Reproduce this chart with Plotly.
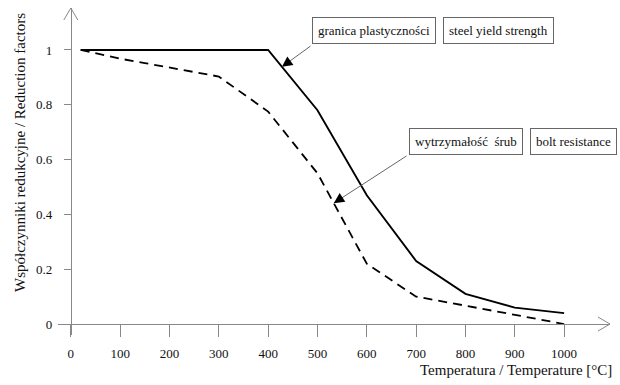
import numpy as np
import plotly.graph_objects as go

# ---- data ----
temps_steel = [20, 100, 200, 300, 400, 500, 600, 700, 800, 900, 1000]
steel_yield = [1.0, 1.0, 1.0, 1.0, 1.0, 0.78, 0.47, 0.23, 0.11, 0.06, 0.04]
temps_bolt = [20, 100, 150, 200, 300, 400, 500, 600, 700, 800, 900, 1000]
bolt_res = [1.0, 0.968, 0.952, 0.935, 0.903, 0.775, 0.55, 0.22, 0.10, 0.067, 0.033, 0.0]
x_ticks = [0, 100, 200, 300, 400, 500, 600, 700, 800, 900, 1000]
y_ticks = [0, 0.2, 0.4, 0.6, 0.8, 1]

FONT = "'Liberation Serif', 'Times New Roman', 'DejaVu Serif', serif"
TXT = "#111111"
W, H = 620, 385
ML, MR, MT, MB = 58, 10, 8, 50
XR = [-26, 1093]
YR = [-0.04, 1.153]
PW, PH = W - ML - MR, H - MT - MB


def d2p(x, y):
    px = ML + (x - XR[0]) / (XR[1] - XR[0]) * PW
    py = MT + (YR[1] - y) / (YR[1] - YR[0]) * PH
    return px, py


def pp(px, py):
    return (px - ML) / PW, (H - MB - py) / PH


fig = go.Figure()
fig.add_trace(go.Scatter(x=temps_steel, y=steel_yield, mode="lines",
                         line=dict(color="black", width=1.9), showlegend=False))
fig.add_trace(go.Scatter(x=temps_bolt, y=bolt_res, mode="lines",
                         line=dict(color="black", width=1.8, dash="9px,6px"), showlegend=False))

axcol = "#888888"
fig.update_layout(
    width=W, height=H, margin=dict(l=ML, r=MR, t=MT, b=MB),
    paper_bgcolor="white", plot_bgcolor="white",
    font=dict(family=FONT, size=13, color=TXT),
    xaxis=dict(range=XR, tickvals=x_ticks, showgrid=False, zeroline=False,
               showline=True, linecolor=axcol, linewidth=1,
               ticks="outside", ticklen=12, tickcolor=axcol,
               anchor="free", position=(0 - YR[0]) / (YR[1] - YR[0]),
               ticklabelstandoff=5, tickfont=dict(family=FONT, size=13, color=TXT)),
    yaxis=dict(range=YR, tickvals=y_ticks, showgrid=False, zeroline=False,
               showline=True, linecolor=axcol, linewidth=1,
               ticks="outside", ticklen=7, tickcolor=axcol,
               anchor="free", position=(0 - XR[0]) / (XR[1] - XR[0]),
               ticklabelstandoff=9, tickfont=dict(family=FONT, size=13, color=TXT)),
)

# axis arrow heads (open chevrons)
x0p = (0 - XR[0]) / (XR[1] - XR[0])
y0p = (0 - YR[0]) / (YR[1] - YR[0])
fig.add_shape(type="path", xref="paper", yref="paper", xsizemode="pixel", ysizemode="pixel",
              xanchor=1, yanchor=y0p, path="M -12,7 L 0,0 L -12,-7",
              line=dict(color=axcol, width=1))
fig.add_shape(type="path", xref="paper", yref="paper", xsizemode="pixel", ysizemode="pixel",
              xanchor=x0p, yanchor=1, path="M -7,-12 L 0,0 L 7,-12",
              line=dict(color=axcol, width=1))

# axis titles
fig.add_annotation(xref="paper", yref="paper", x=pp(614, 0)[0], y=pp(0, 370)[1],
                   text="Temperatura / Temperature [°C]", showarrow=False,
                   xanchor="right", yanchor="middle", font=dict(family=FONT, size=15, color=TXT))
fig.add_annotation(xref="paper", yref="paper", x=pp(20, 0)[0], y=pp(0, 153)[1],
                   text="Współczynniki redukcyjne / Reduction factors", showarrow=False,
                   textangle=-90, xanchor="center", yanchor="middle",
                   font=dict(family=FONT, size=15, color=TXT))

# labelled boxes
def box(text, cx, cy):
    x, y = pp(cx, cy)
    fig.add_annotation(xref="paper", yref="paper", x=x, y=y, text=text, showarrow=False,
                       xanchor="center", yanchor="middle", bgcolor="white",
                       bordercolor="#666", borderwidth=1, borderpad=5,
                       font=dict(family=FONT, size=13, color=TXT))

box("granica plastyczności", 373.5, 31)
box("steel yield strength", 498, 31)
box("wytrzymałość  śrub", 466, 141)
box("bolt resistance", 573, 141)


def pointer(xd, yd, tail_px):
    hx, hy = d2p(xd, yd)
    ax, ay = tail_px[0] - hx, tail_px[1] - hy
    fig.add_annotation(x=xd, y=yd, xref="x", yref="y", text="", showarrow=True,
                       ax=ax, ay=ay, arrowhead=0, arrowwidth=1, arrowcolor="#666", standoff=0)
    L = np.hypot(ax, ay)
    fig.add_annotation(x=xd, y=yd, xref="x", yref="y", text="", showarrow=True,
                       ax=ax / L * 9, ay=ay / L * 9, arrowhead=2, arrowsize=1.6,
                       arrowwidth=1.3, arrowcolor="black", standoff=0)


xs1 = 428
pointer(xs1, float(np.interp(xs1, temps_steel, steel_yield)), (312, 45))
xb1 = 533
pointer(xb1, float(np.interp(xb1, temps_bolt, bolt_res)), (408, 155))

fig.write_html("out.html")
